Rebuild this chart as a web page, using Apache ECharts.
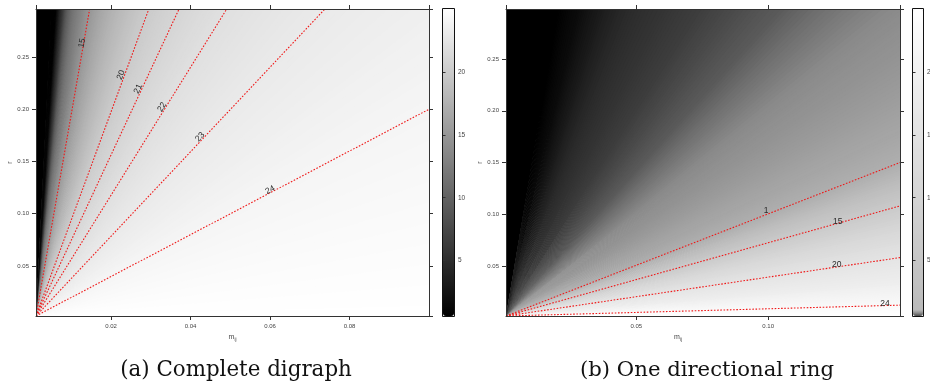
<!DOCTYPE html>
<html>
<head>
<meta charset="utf-8">
<script src="https://cdn.jsdelivr.net/npm/echarts@6/dist/echarts.min.js"></script>
<style>
html,body{margin:0;padding:0;background:#fff}
#chart{width:930px;height:382px}
</style>
</head>
<body>
<div id="chart"></div>
<script>
// (a) complete digraph -- the shade only depends on the slope r/m seen from the lower-left corner
const leftOrigin = [0.0011, 0.002];
const leftShadeSlopes = [0, 1, 2.0, 3, 4.05, 5, 6.1, 7.2, 8.2, 9.3, 10.35, 13, 16, 19, 21.9, 26, 32, 38.5, 44, 52, 60, 75, 10000];
const leftShadeValues = [25, 24.5, 24, 23.5, 23, 22.5, 22, 21.5, 21, 20.5, 20, 18.7, 17.3, 16.1, 15, 13.3, 11.5, 9, 6, 3, 0.6, 0.6, 0.6];
const leftContourLevels = ['15', '20', '21', '22', '23', '24'];
const leftContourEnds = [[0.0146, 0.296], [0.0295, 0.296], [0.0371, 0.296], [0.0491, 0.296], [0.0738, 0.296], [0.1, 0.2]];
const leftLabelPos = [[0.0127, 0.2634], [0.0225, 0.2328], [0.0268, 0.2195], [0.0328, 0.2022], [0.0424, 0.1735], [0.06, 0.1227]];

// (b) one directional ring
const rightOrigin = [0.0006, 0.0015];
const rightShadeSlopes = [0, 0.07, 0.2, 0.378, 0.55, 0.713, 0.86, 0.994, 1.2, 1.45, 1.75, 2.0, 2.4, 2.85, 3.4, 4.0, 5.0, 6.5, 8.5, 11, 15, 10000];
const rightShadeValues = [25, 24, 22, 20, 17.5, 15, 12.5, 10, 9.4, 8.9, 8.4, 8.0, 6.8, 5.4, 4.6, 3.9, 3.3, 2.8, 1.9, 1.1, 0.6, 0.6];
const rightContourLevels = ['1', '15', '20', '24'];
const rightContourEnds = [[0.15, 0.150], [0.15, 0.108], [0.15, 0.058], [0.15, 0.012]];
const rightLabelPos = [[0.0992, 0.1034], [0.1264, 0.0927], [0.126, 0.0515], [0.1443, 0.0138]];

const colorbarTicks = [5, 10, 15, 20];

const tickFont = '"Liberation Sans", "DejaVu Sans", sans-serif';
const vMin = 0.6, vMax = 25;

// one item per pair of neighbouring read rays: [slope1, slope2, value1, value2]
function bands(slopes, values){
    const out = [];
    for(let i = 0; i < slopes.length - 1; i++){
        out.push([slopes[i], slopes[i + 1], values[i], values[i + 1]]);
    }
    return out;
}

// fan between two rays, shaded across in thin slices so the grey has no hard steps
// (each slice reaches a bit into the next one so no seams show)
function wedge(origin, ramp){
    return function(params, api){
        const s1 = api.value(0), s2 = api.value(1);
        const c1 = api.visual('color');
        const c2 = echarts.color.lerp((api.value(3) - vMin) / (vMax - vMin), ramp);
        const n = 10;
        const children = [];
        for(let k = 0; k < n; k++){
            const a1 = Math.atan(s1 + (s2 - s1) * k / n);
            let a2 = Math.atan(s1 + (s2 - s1) * (k + 1) / n);
            a2 = Math.min(Math.PI / 2, a2 + (a2 - a1) * 0.6 + 0.0004);
            const pts = [
                origin,
                [origin[0] + Math.cos(a1), origin[1] + Math.sin(a1)],
                [origin[0] + Math.cos(a2), origin[1] + Math.sin(a2)]
            ].map(p => api.coord(p));
            const c = echarts.color.lerp((k + 0.5) / n, [c1, c2]);
            children.push({type: 'polygon', shape: {points: pts}, style: {fill: c}});
        }
        return {type: 'group', children: children};
    };
}

function contourLine(origin){
    return function(params, api){
        const o = api.coord(origin);
        const e = api.coord([api.value(0), api.value(1)]);
        return {
            type: 'line',
            shape: {x1: o[0], y1: o[1], x2: e[0], y2: e[1]},
            style: {stroke: '#f01818', lineWidth: 1.1, lineDash: [1.6, 1.6], fill: null}
        };
    };
}

function contourLabel(origin, texts, rotate){
    return function(params, api){
        const p = api.coord([api.value(0), api.value(1)]);
        const o = api.coord(origin);
        const e = api.coord([api.value(2), api.value(3)]);
        const ang = rotate ? Math.atan2(o[1] - e[1], e[0] - o[0]) : 0;
        return {
            type: 'text', x: p[0], y: p[1], rotation: ang,
            style: {
                text: texts[params.dataIndex], fill: '#2a2a2a',
                font: '8.5px ' + tickFont, align: 'center', verticalAlign: 'middle',
                textAlign: 'center', textVerticalAlign: 'middle'
            }
        };
    };
}

function labelData(pos, ends){
    return pos.map((p, i) => [p[0], p[1], ends[i][0], ends[i][1]]);
}

// grey ramps
const leftRamp = ['#000000', '#ffffff'];
function rightGray(v){
    return v < 10 ? 176 * (v - 0.6) / 9.4 : 176 + 79 * (v - 10) / 15;
}
const rightRamp = [];
for(let i = 0; i <= 48; i++){
    const g = Math.max(0, Math.round(rightGray(vMin + (vMax - vMin) * i / 48)));
    rightRamp.push('rgb(' + g + ',' + g + ',' + g + ')');
}
const rightBarRamp = ['#4d4d4d'];
for(let i = 0; i < 60; i++){
    const g = Math.round(186 + 69 * i / 59);
    rightBarRamp.push('rgb(' + g + ',' + g + ',' + g + ')');
}

const lineCol = '#333';
const nameRich = {
    m: {fontSize: 7, color: '#444', fontFamily: tickFont},
    s: {fontSize: 4.5, color: '#444', fontFamily: tickFont, padding: [4, 0, 0, 0]}
};

function xAxis(grid, min, max, step, pos, labels, name, pad){
    return {
        type: 'value', gridIndex: grid, min: min, max: max, position: pos,
        splitNumber: 4, minInterval: step, maxInterval: step, z: 10,
        axisLine: {show: true, onZero: false, lineStyle: {color: lineCol, width: 1}},
        axisTick: {show: true, inside: false, length: 4, lineStyle: {color: lineCol}},
        axisLabel: {show: labels, margin: 7, fontSize: 6, color: '#444', fontFamily: tickFont,
            showMinLabel: false, showMaxLabel: false, formatter: v => v.toFixed(2)},
        splitLine: {show: false},
        name: name || '', nameLocation: 'middle', nameGap: 14,
        nameTextStyle: {color: '#444', fontSize: 7, fontFamily: tickFont, padding: pad || 0, rich: nameRich}
    };
}

function yAxis(grid, min, max, step, pos, labels, name){
    return {
        type: 'value', gridIndex: grid, min: min, max: max, position: pos,
        splitNumber: 5, minInterval: step, maxInterval: step, z: 10,
        axisLine: {show: true, onZero: false, lineStyle: {color: lineCol, width: 1}},
        axisTick: {show: true, inside: false, length: 4, lineStyle: {color: lineCol}},
        axisLabel: {show: labels, margin: 7, fontSize: 6, color: '#444', fontFamily: tickFont,
            showMinLabel: false, showMaxLabel: false, formatter: v => v.toFixed(2)},
        splitLine: {show: false},
        name: name || '', nameLocation: 'middle', nameGap: 22, nameRotate: 90,
        nameTextStyle: {color: '#444', fontSize: 7, fontFamily: tickFont}
    };
}

function barAxis(grid){
    return {
        type: 'value', gridIndex: grid, min: vMin, max: vMax, position: 'right',
        z: 10,
        axisLine: {show: false},
        axisTick: {show: true, inside: false, length: 2.5, lineStyle: {color: lineCol},
            customValues: colorbarTicks},
        axisLabel: {show: true, margin: 4, fontSize: 6.5, color: '#444', fontFamily: tickFont,
            customValues: colorbarTicks, showMinLabel: true, showMaxLabel: true},
        splitLine: {show: false}
    };
}

function hiddenX(grid){
    return {type: 'value', gridIndex: grid, min: 0, max: 1, show: false};
}

const option = {
    animation: false,
    backgroundColor: '#fff',
    grid: [
        {left: 36, top: 9, width: 393, height: 307, outerBoundsMode: 'none'},
        {left: 443, top: 9, width: 11, height: 307, outerBoundsMode: 'none'},
        {left: 506, top: 9, width: 394, height: 307, outerBoundsMode: 'none'},
        {left: 913, top: 9, width: 10, height: 307, outerBoundsMode: 'none'}
    ],
    xAxis: [
        xAxis(0, leftOrigin[0], 0.1, 0.02, 'bottom', true, '{m|m}{s|ij}'),
        xAxis(0, leftOrigin[0], 0.1, 0.02, 'top', false),
        xAxis(2, rightOrigin[0], 0.15, 0.05, 'bottom', true, '{m|m}{s|ij}', [0, 50, 0, 0]),
        xAxis(2, rightOrigin[0], 0.15, 0.05, 'top', false),
        hiddenX(1),
        hiddenX(3)
    ],
    yAxis: [
        yAxis(0, leftOrigin[1], 0.296, 0.05, 'left', true, 'r'),
        yAxis(0, leftOrigin[1], 0.296, 0.05, 'right', false),
        yAxis(2, rightOrigin[1], 0.2985, 0.05, 'left', true, 'r'),
        yAxis(2, rightOrigin[1], 0.2985, 0.05, 'right', false),
        barAxis(1),
        barAxis(3)
    ],
    visualMap: [
        {
            type: 'continuous', seriesIndex: [0], dimension: 2, min: vMin, max: vMax,
            inRange: {color: leftRamp},
            show: true, calculable: false, hoverLink: false, padding: 0,
            left: 443, top: 9, itemWidth: 11, itemHeight: 307
        },
        {
            type: 'continuous', seriesIndex: [1], dimension: 2, min: vMin, max: vMax,
            inRange: {color: rightRamp}, show: false
        },
        {
            type: 'continuous', seriesIndex: [], min: vMin, max: vMax,
            inRange: {color: rightBarRamp},
            show: true, calculable: false, hoverLink: false, padding: 0,
            left: 913, top: 9, itemWidth: 10, itemHeight: 307
        }
    ],
    series: [
        {type: 'custom', xAxisIndex: 0, yAxisIndex: 0, clip: true, z: 1, silent: true,
            renderItem: wedge(leftOrigin, leftRamp), data: bands(leftShadeSlopes, leftShadeValues)},
        {type: 'custom', xAxisIndex: 2, yAxisIndex: 2, clip: true, z: 1, silent: true,
            renderItem: wedge(rightOrigin, rightRamp), data: bands(rightShadeSlopes, rightShadeValues)},
        {type: 'custom', xAxisIndex: 0, yAxisIndex: 0, clip: true, z: 3, silent: true,
            renderItem: contourLine(leftOrigin), data: leftContourEnds},
        {type: 'custom', xAxisIndex: 2, yAxisIndex: 2, clip: true, z: 3, silent: true,
            renderItem: contourLine(rightOrigin), data: rightContourEnds},
        {type: 'custom', xAxisIndex: 0, yAxisIndex: 0, clip: true, z: 4, silent: true,
            renderItem: contourLabel(leftOrigin, leftContourLevels, true), data: labelData(leftLabelPos, leftContourEnds)},
        {type: 'custom', xAxisIndex: 2, yAxisIndex: 2, clip: true, z: 4, silent: true,
            renderItem: contourLabel(rightOrigin, rightContourLevels, false), data: labelData(rightLabelPos, rightContourEnds)}
    ],
    graphic: [
        {type: 'rect', z: 100, silent: true, shape: {x: 442.5, y: 8.5, width: 12, height: 308},
            style: {fill: null, stroke: '#111', lineWidth: 1}},
        {type: 'rect', z: 100, silent: true, shape: {x: 912.5, y: 8.5, width: 11, height: 308},
            style: {fill: null, stroke: '#111', lineWidth: 1}},
        {type: 'text', x: 236, y: 370, silent: true,
            style: {text: '(a) Complete digraph', font: '21.4px "DejaVu Serif", serif', fill: '#111',
                align: 'center', verticalAlign: 'middle', textAlign: 'center', textVerticalAlign: 'middle'}},
        {type: 'text', x: 707, y: 370, silent: true,
            style: {text: '(b) One directional ring', font: '21.2px "DejaVu Serif", serif', fill: '#111',
                align: 'center', verticalAlign: 'middle', textAlign: 'center', textVerticalAlign: 'middle'}}
    ]
};

const chart = echarts.init(document.getElementById('chart'), null, {width: 930, height: 382});
chart.setOption(option);
</script>
</body>
</html>
